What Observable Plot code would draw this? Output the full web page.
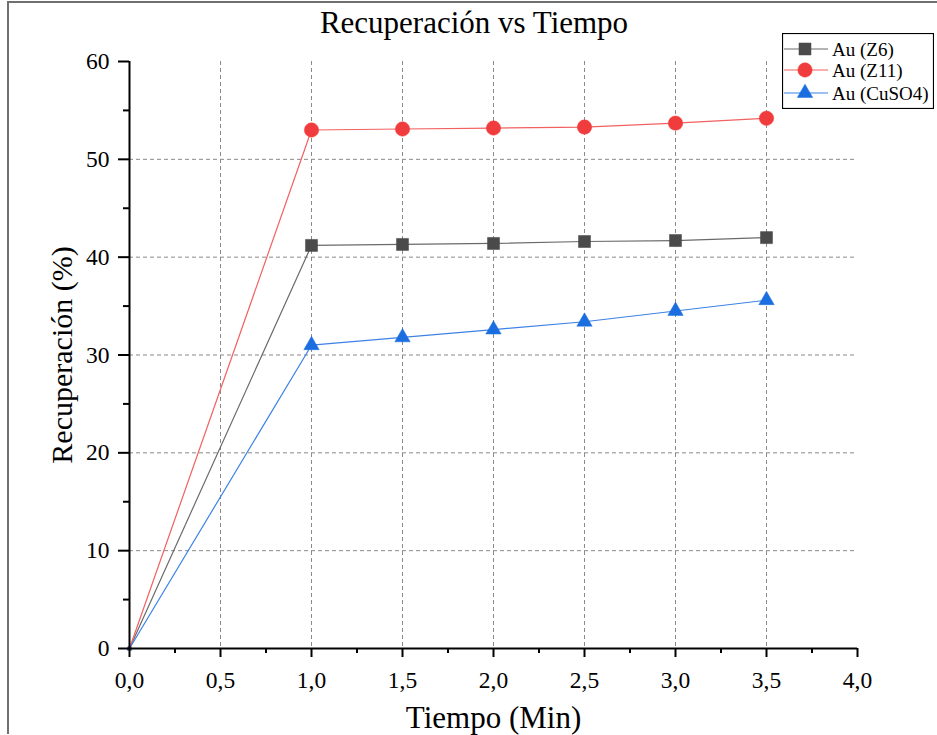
<!DOCTYPE html>
<html><head><meta charset="utf-8">
<script src="https://cdn.jsdelivr.net/npm/d3@7"></script>
<script src="https://cdn.jsdelivr.net/npm/@observablehq/plot@0.6"></script>
<style>
body{margin:0;background:#fff;}
#wrap{position:relative;width:937px;height:735px;font-family:"Liberation Serif","Times New Roman",serif;overflow:hidden;background:#fff}
#bt{position:absolute;left:8px;top:1px;width:929px;height:2px;background:#707070}
#bl{position:absolute;left:7px;top:1px;width:2px;height:733px;background:#707070}
#title{position:absolute;left:474px;top:8px;transform:translateX(-50%);font-size:31px;line-height:30px;white-space:nowrap;color:#000}
#chart{position:absolute;left:0;top:0}
#chart svg text{font-family:"Liberation Serif","Times New Roman",serif}
#legend{position:absolute;left:782px;top:33px}
</style></head><body>
<div id="wrap">
  <div id="bt"></div><div id="bl"></div>
  <div id="chart"></div>
  <div id="title">Recuperación vs Tiempo</div>
  <div id="legend"></div>
</div>
<script>
const tiempo = [0, 1, 1.5, 2, 2.5, 3, 3.5];
const seriesNames = ["Au (Z6)", "Au (Z11)", "Au (CuSO4)"];
const z6 = [0, 41.2, 41.3, 41.4, 41.6, 41.7, 42.0];
const z11 = [0, 53.0, 53.1, 53.2, 53.3, 53.7, 54.2];
const cuso4 = [0, 31.0, 31.8, 32.6, 33.4, 34.5, 35.6];
const seriesValues = [z6, z11, cuso4];
const lineColors = ["#6a6a6a", "#f26060", "#3d82e6"];
const markColors = ["#4a4a4a", "#f03c3c", "#1a6ee0"];
const symbols = ["square", "circle", "triangle"];
const radii = [6.8, 7.2, 5.7];
const xTicks = [0, 0.5, 1, 1.5, 2, 2.5, 3, 3.5, 4];
const xMinor = [0.25, 0.75, 1.25, 1.75, 2.25, 2.75, 3.25, 3.75];
const xGrid = [0.5, 1, 1.5, 2, 2.5, 3, 3.5];
const yTicks = [0, 10, 20, 30, 40, 50, 60];
const yMinor = [5, 15, 25, 35, 45, 55];
const yGrid = [10, 20, 30, 40, 50];
const xLabel = "Tiempo (Min)";
const yLabel = "Recuperación (%)";

const data = [];
seriesNames.forEach((s, i) => tiempo.forEach((t, j) => data.push({serie: s, idx: i, t, v: seriesValues[i][j]})));

const fmt = d => d.toFixed(1).replace(".", ",");
const font = '"Liberation Serif", "Times New Roman", serif';

const marks = [
  Plot.gridX(xGrid, {stroke: "#8a8a8a", strokeOpacity: 1, strokeDasharray: "4,3", strokeWidth: 1}),
  Plot.gridY(yGrid, {stroke: "#8a8a8a", strokeOpacity: 1, strokeDasharray: "4,3", strokeWidth: 1}),
];
seriesNames.forEach((s, i) => {
  const d = data.filter(r => r.idx === i);
  marks.push(Plot.line(d, {x: "t", y: "v", stroke: lineColors[i], strokeWidth: 1.2}));
});
seriesNames.forEach((s, i) => {
  const d = data.filter(r => r.idx === i);
  marks.push(Plot.dot(d.filter(r => r.t > 0), {x: "t", y: "v", symbol: symbols[i], r: radii[i], fill: markColors[i], stroke: markColors[i], strokeWidth: 0.5}));
  marks.push(Plot.dot(d.filter(r => r.t === 0), {x: "t", y: "v", symbol: symbols[i], r: 2.2, fill: markColors[i]}));
});
marks.push(
  Plot.ruleX([0], {stroke: "black", strokeWidth: 2}),
  Plot.ruleY([0], {stroke: "black", strokeWidth: 2}),
  Plot.axisX({ticks: xTicks, tickSize: 9, tickFormat: () => "", strokeWidth: 2, label: null}),
  Plot.axisX({ticks: xMinor, tickSize: 5, tickFormat: () => "", strokeWidth: 2, label: null}),
  Plot.axisY({ticks: yTicks, tickSize: 11, tickFormat: () => "", strokeWidth: 2, label: null}),
  Plot.axisY({ticks: yMinor, tickSize: 6, tickFormat: () => "", strokeWidth: 2, label: null}),
  Plot.text(xTicks, {x: d => d, text: fmt, frameAnchor: "bottom", lineAnchor: "middle", dy: 32, fontSize: 23.5, fill: "black", fontFamily: font}),
  Plot.text(yTicks, {y: d => d, text: d => String(d), frameAnchor: "left", textAnchor: "end", lineAnchor: "middle", dx: -20, fontSize: 23.5, fill: "black", fontFamily: font}),
  Plot.text([xLabel], {frameAnchor: "bottom", lineAnchor: "middle", dy: 70, fontSize: 31, fill: "black", fontFamily: font}),
  Plot.text([yLabel], {frameAnchor: "left", textAnchor: "middle", dx: -67, rotate: -90, fontSize: 30, fill: "black", fontFamily: font})
);

const chart = Plot.plot({
  width: 937, height: 735,
  marginLeft: 129, marginRight: 80, marginTop: 61, marginBottom: 87,
  x: {domain: [0, 4], label: null},
  y: {domain: [0, 60], label: null},
  style: {fontFamily: font, fontSize: "24px", color: "black", background: "transparent", overflow: "visible"},
  marks
});
document.getElementById("chart").appendChild(chart);

// legend
const lg = d3.select("#legend").append("svg").attr("width", 152).attr("height", 76);
lg.append("rect").attr("x", 0.5).attr("y", 0.5).attr("width", 151).attr("height", 75).attr("fill", "white").attr("stroke", "black").attr("stroke-width", 1.2);
const rowsY = [16, 37, 60];
seriesNames.forEach((s, i) => {
  const y = rowsY[i];
  lg.append("line").attr("x1", 2).attr("x2", 46).attr("y1", y).attr("y2", y).attr("stroke", lineColors[i]).attr("stroke-width", 1.2);
  const sym = {square: d3.symbolSquare, circle: d3.symbolCircle, triangle: d3.symbolTriangle}[symbols[i]];
  lg.append("path").attr("d", d3.symbol(sym, Math.PI * radii[i] * radii[i])()).attr("transform", `translate(23,${y})`).attr("fill", markColors[i]).attr("stroke", markColors[i]).attr("stroke-width", 0.5);
  lg.append("text").attr("x", 50).attr("y", y).attr("dy", "0.35em").attr("font-size", 19).style("font-family", font).text(s);
});
</script>
</body></html>
